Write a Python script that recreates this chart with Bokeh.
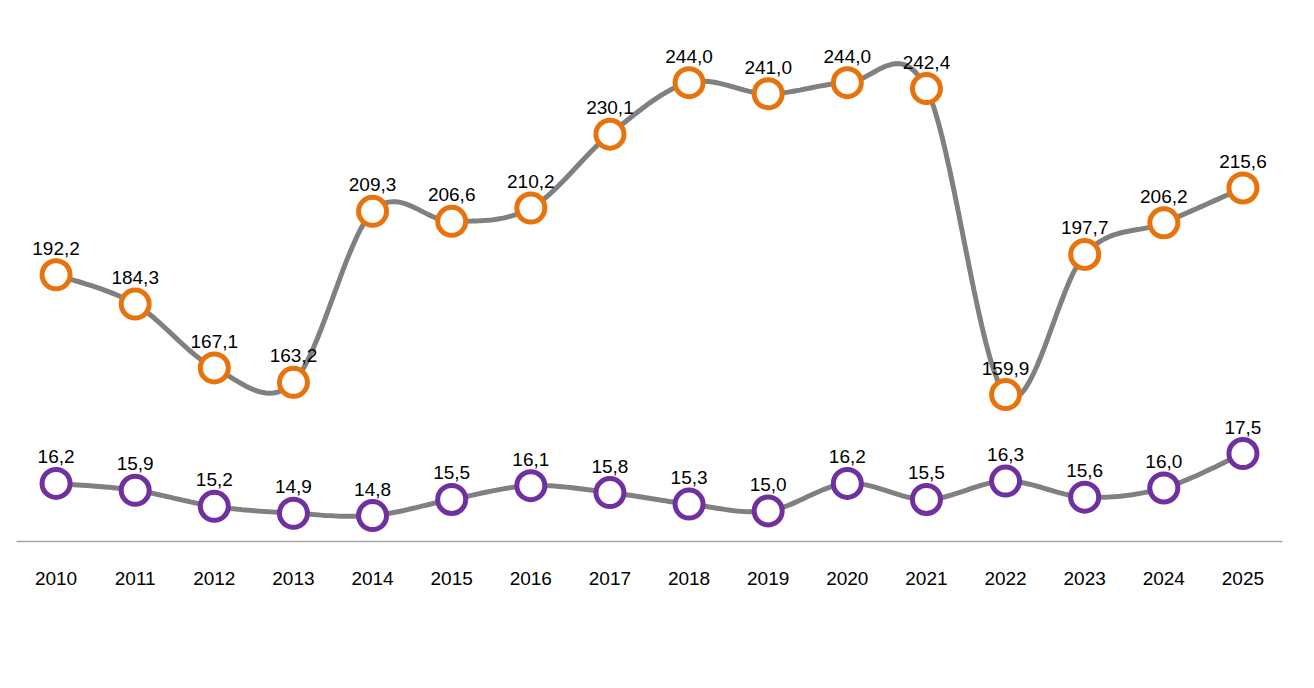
import numpy as np
from bokeh.plotting import figure
from bokeh.models import Range1d, FixedTicker, Legend, LegendItem, ColumnDataSource
from bokeh.core.properties import value
from bokeh.embed import file_html
from bokeh.resources import INLINE

years = list(range(2010, 2026))
prod = [192.2, 184.3, 167.1, 163.2, 209.3, 206.6, 210.2, 230.1, 244.0, 241.0, 244.0, 242.4, 159.9, 197.7, 206.2, 215.6]
tko = [16.2, 15.9, 15.2, 14.9, 14.8, 15.5, 16.1, 15.8, 15.3, 15.0, 16.2, 15.5, 16.3, 15.6, 16.0, 17.5]
series_names = ["Отходы производства", "ТКО"]

ORANGE = "#e8730c"
PURPLE = "#7030a0"
GRAY = "#808080"

def smooth(xs, ys, n=20):
    xs = np.asarray(xs, float); ys = np.asarray(ys, float)
    px = np.concatenate([[xs[0]], xs, [xs[-1]]])
    py = np.concatenate([[ys[0]], ys, [ys[-1]]])
    ox, oy = [], []
    for i in range(1, len(px) - 2):
        p0, p1, p2, p3 = (np.array([px[j], py[j]]) for j in (i - 1, i, i + 1, i + 2))
        c1 = p1 + (p2 - p0) / 6
        c2 = p2 - (p3 - p1) / 6
        t = np.linspace(0, 1, n, endpoint=(i == len(px) - 3))
        pts = ((1 - t) ** 3)[:, None] * p1 + (3 * (1 - t) ** 2 * t)[:, None] * c1 + (3 * (1 - t) * t ** 2)[:, None] * c2 + (t ** 3)[:, None] * p2
        ox.extend(pts[:, 0]); oy.extend(pts[:, 1])
    return ox, oy

p = figure(frame_width=1266, frame_height=539, output_backend="svg", toolbar_location=None,
           x_range=Range1d(2009.5, 2025.5), y_range=Range1d(120.3, 265.6),
           min_border_left=16, min_border_right=16, min_border_top=2, min_border_bottom=0)
p.extra_y_ranges = {"t": Range1d(13.67, 37.14)}
p.outline_line_color = None
p.grid.visible = False
p.yaxis.visible = False
p.xaxis.ticker = FixedTicker(ticks=years)
p.xaxis.major_tick_line_color = None
p.xaxis.minor_tick_line_color = None
p.xaxis.axis_line_color = "#a6a6a6"
p.xaxis.axis_line_width = 1.5
p.xaxis.major_label_text_font = "Liberation Sans"
p.xaxis.major_label_text_font_size = "19px"
p.xaxis.major_label_text_color = "#000000"
p.xaxis.major_label_standoff = 24

items = []
for ys, col, rng, name in [(prod, ORANGE, "default", series_names[0]), (tko, PURPLE, "t", series_names[1])]:
    sx, sy = smooth(years, ys)
    l = p.line(sx, sy, line_color=GRAY, line_width=5, y_range_name=rng)
    c = p.scatter(years, ys, size=28, fill_color="white", line_color=col, line_width=5, y_range_name=rng)
    src = ColumnDataSource(dict(x=years, y=ys, t=[f"{v:.1f}".replace(".", ",") for v in ys]))
    p.text("x", "y", text="t", source=src, y_range_name=rng, text_align="center", text_baseline="bottom",
           y_offset=-20, text_font=value("Liberation Sans"), text_font_size="19px", text_color="#000000")
    items.append(LegendItem(label=name, renderers=[l, c]))

leg = Legend(items=items, orientation="horizontal", location="center", border_line_color=None,
             label_text_font="Liberation Sans", label_text_font_size="19px", glyph_width=60,
             spacing=40, margin=12)
p.add_layout(leg, "below")

open("out.html", "w").write(file_html(p, INLINE))
